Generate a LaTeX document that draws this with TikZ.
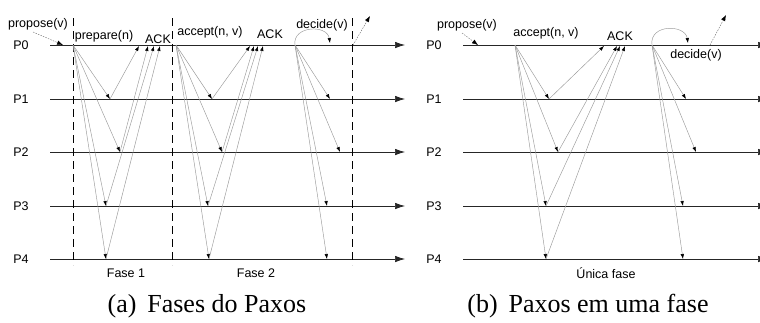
\documentclass[tikz,border=0pt]{standalone}
\usepackage{fontspec}
\setmainfont{Liberation Serif}
\newfontfamily\diagfont{Liberation Sans}
\usetikzlibrary{arrows.meta}

\tikzset{
  proc/.style={black!85, line width=0.7pt, -{Latex[length=10pt,width=6.5pt]}},
  msg/.style={black!40, line width=0.45pt, -{Latex[length=5pt,width=3.5pt,color=black]}},
  hint/.style={black!55, line width=0.45pt, dash pattern=on 1.5pt off 1.2pt, -{Latex[length=6pt,width=4.5pt,color=black]}},
  phase/.style={black, line width=0.6pt, dash pattern=on 8pt off 5pt},
  lbl/.style={font=\diagfont\fontsize{12.5}{14}\selectfont, inner sep=0pt},
  subcap/.style={font=\fontsize{26}{30}\selectfont, inner sep=0pt}
}

\begin{document}
\begin{tikzpicture}[x=1pt, y=-1pt]
    \useasboundingbox (0,0) rectangle (760,322);

    % Processes (a) and (b)
    \foreach \i/\y in {0/45,1/99,2/152,3/206,4/259}{
        \node[lbl] (pa\i) at (21,\y) {P\i};
        \coordinate (pa\i-s) at (50,\y);
        \coordinate (pa\i-e) at (405,\y);
        \draw[proc] (pa\i-s) -- (pa\i-e);
        \node[lbl] (pb\i) at (434,\y) {P\i};
        \coordinate (pb\i-s) at (463,\y);
        \coordinate (pb\i-e) at (768,\y);
        \draw[proc] (pb\i-s) -- (pb\i-e);
    }

    % Phase borders
    \foreach \n/\x in {1/73,2/172,3/352}{
        \coordinate (bd\n-t) at (\x,18);
        \coordinate (bd\n-b) at (\x,265);
        \draw[phase] (bd\n-t) -- (bd\n-b);
    }

    % (a) propose
    \node[lbl] (propa) at (38,24) {propose(v)};
    \coordinate (propa-s) at (33,32);
    \coordinate (propa-e) at (63,45);
    \draw[hint] (propa-s) -- (propa-e);

    % (a) phase 1: prepare / ACK
    \node[lbl] (prepl) at (104,36) {prepare(n)};
    \node[lbl] (ackl1) at (158,39) {ACK};
    \coordinate (prep) at (73,45);
    \foreach \i/\x/\y/\a in {1/110/99/139, 2/120/152/148, 3/106/206/154, 4/106/259/160}{
        \coordinate (prep-r\i) at (\x,\y);
        \coordinate (ack1-\i) at (\a,46);
        \draw[msg] (prep) -- (prep-r\i);
        \draw[msg] (prep-r\i) -- (ack1-\i);
    }

    % (a) phase 2: accept / ACK
    \node[lbl] (accl) at (210,32) {accept(n, v)};
    \node[lbl] (ackl2) at (270,34) {ACK};
    \coordinate (acca) at (176,45);
    \foreach \i/\x/\y/\a in {1/212/99/250, 2/222/152/254, 3/208/206/258, 4/209/259/263}{
        \coordinate (acca-r\i) at (\x,\y);
        \coordinate (ack2-\i) at (\a,46);
        \draw[msg] (acca) -- (acca-r\i);
        \draw[msg] (acca-r\i) -- (ack2-\i);
    }

    % (a) decide
    \node[lbl] (decl) at (322,25) {decide(v)};
    \coordinate (deca) at (295,45);
    \coordinate (deca-e) at (330,43);
    \draw[msg] (deca) .. controls (292,26) and (327,24) .. (deca-e);
    \foreach \i/\x/\y in {1/330/99, 2/340/152, 3/327/206, 4/327/259}{
        \coordinate (deca-r\i) at (\x,\y);
        \draw[msg] (deca) -- (deca-r\i);
    }
    \coordinate (outa-s) at (353,45);
    \coordinate (outa-e) at (370,16);
    \draw[hint] (outa-s) -- (outa-e);

    \node[lbl] (fase1) at (126,273) {Fase 1};
    \node[lbl] (fase2) at (256,273) {Fase 2};

    % (b) propose
    \node[lbl] (propb) at (467,25) {propose(v)};
    \coordinate (propb-s) at (462,33);
    \coordinate (propb-e) at (478,45);
    \draw[hint] (propb-s) -- (propb-e);

    % (b) single phase: accept / ACK
    \node[lbl] (accr) at (546,33) {accept(n, v)};
    \node[lbl] (ackr) at (620,36) {ACK};
    \coordinate (accb) at (515,45);
    \foreach \i/\x/\y/\a in {1/549/99/604, 2/558/152/617, 3/546/206/620, 4/546/259/625}{
        \coordinate (accb-r\i) at (\x,\y);
        \coordinate (ackb-\i) at (\a,46);
        \draw[msg] (accb) -- (accb-r\i);
        \draw[msg] (accb-r\i) -- (ackb-\i);
    }

    % (b) decide
    \node[lbl] (decr) at (696,55) {decide(v)};
    \coordinate (decb) at (652,45);
    \coordinate (decb-e) at (688,43);
    \draw[msg] (decb) .. controls (649,24) and (685,24) .. (decb-e);
    \foreach \i/\x/\y in {1/686/99, 2/696/152, 3/683/206, 4/683/259}{
        \coordinate (decb-r\i) at (\x,\y);
        \draw[msg] (decb) -- (decb-r\i);
    }
    \coordinate (outb-s) at (710,45);
    \coordinate (outb-e) at (726,15);
    \draw[hint] (outb-s) -- (outb-e);

    \node[lbl] (unica) at (606,273) {Única fase};

    % Captions
    \node[subcap] (capa) at (207,306) {(a)\, Fases do Paxos};
    \node[subcap] (capb) at (588,306) {(b)\, Paxos em uma fase};
\end{tikzpicture}
\end{document}
